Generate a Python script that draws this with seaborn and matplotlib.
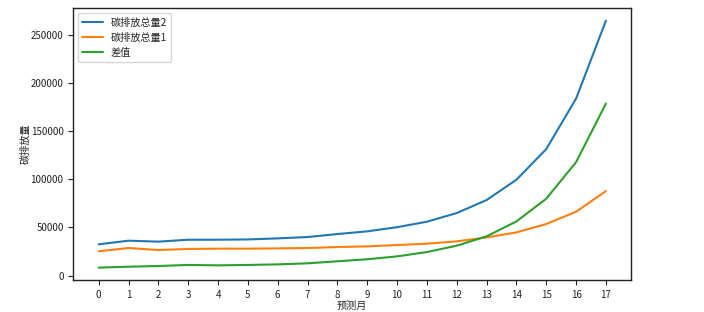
import numpy as np
import pandas as pd
import seaborn as sns
import matplotlib
matplotlib.use("Agg")
import matplotlib.pyplot as plt

months = list(range(18))
total2 = [32500, 36300, 35300, 37300, 37300, 37600, 38700, 40100, 43200, 46000,
          50300, 56000, 65000, 78500, 99600, 131400, 183900, 264800]
total1 = [25300, 28700, 26600, 27700, 28000, 28000, 28300, 28700, 29700, 30400,
          31800, 33200, 35600, 39700, 44900, 53600, 66400, 87800]
diff = [8300, 9300, 10000, 11100, 10700, 11100, 11700, 12800, 14900, 17000,
        20000, 24500, 31100, 40800, 56300, 79900, 117900, 178700]
labels = ["碳排放总量2", "碳排放总量1", "差值"]

sns.set_style("ticks")
plt.rcParams['font.family'] = ['Noto Sans CJK SC', 'DejaVu Sans']
plt.rcParams['axes.unicode_minus'] = False

df = pd.DataFrame({
    "预测月": months * 3,
    "碳排放量": total2 + total1 + diff,
    "series": [labels[0]] * 18 + [labels[1]] * 18 + [labels[2]] * 18,
})

fig = plt.figure(figsize=(7.04, 3.12), dpi=100)
ax = fig.add_axes([73.3 / 704, 1 - 280 / 312, (631.3 - 73.3) / 704, (280 - 8.3) / 312])
colors = ["#1f77b4", "#ff7f0e", "#2ca02c"]
sns.lineplot(data=df, x="预测月", y="碳排放量", hue="series", palette=colors,
             ax=ax, linewidth=1.5)
ax.set_xticks(months)
ax.tick_params(labelsize=7, length=3.5, width=0.8, colors="#222222")
ax.set_xlabel("预测月", fontsize=7.3, labelpad=1)
ax.set_ylabel("碳排放量", fontsize=7.3, labelpad=0)
for s in ax.spines.values():
    s.set_color("#222222")
    s.set_linewidth(1.0)
leg = ax.legend(loc="upper left", fontsize=7.3, frameon=True, handlelength=2.0)
leg.get_frame().set_edgecolor("#cccccc")
fig.savefig("out.png", dpi=100)
